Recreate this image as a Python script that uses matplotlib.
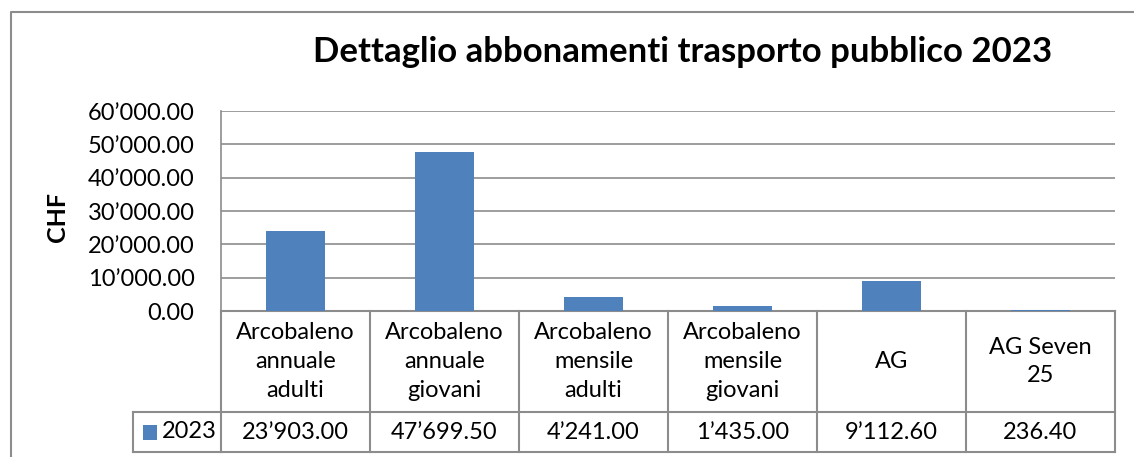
import numpy as np
import matplotlib.pyplot as plt
from matplotlib.patches import Rectangle
from matplotlib.lines import Line2D

plt.rcParams['font.family'] = ['Lato', 'DejaVu Sans']

# dati
categorie = ["Arcobaleno\nannuale\nadulti", "Arcobaleno\nannuale\ngiovani",
             "Arcobaleno\nmensile\nadulti", "Arcobaleno\nmensile\ngiovani",
             "AG", "AG Seven\n25"]
valori_2023 = [23903.00, 47699.50, 4241.00, 1435.00, 9112.60, 236.40]
serie = "2023"
titolo = "Dettaglio abbonamenti trasporto pubblico 2023"

blu = "#4F81BD"
grigio = "#8C8C8C"

W, H = 1134, 457
fig = plt.figure(figsize=(W / 100, H / 100), dpi=100)

def fx(px):
    return px / W

def fy(py):
    return 1 - py / H

# cornice del grafico (solo lati superiore e sinistro visibili)
fig.add_artist(Line2D([fx(10.5), fx(10.5), 1.0], [0.0, fy(12), fy(12)],
                      transform=fig.transFigure, color=grigio, lw=1.5))

ax = fig.add_axes([fx(221), fy(311), fx(1115) - fx(221), fy(111) - fy(311)])

def fmt(v):
    return f"{v:,.2f}".replace(",", "’")

x = np.arange(len(categorie))
ax.bar(x, valori_2023, width=0.4, color=blu, zorder=3)
ax.set_xlim(-0.5, len(categorie) - 0.5)
ax.set_ylim(0, 60000)
ax.set_yticks(np.arange(0, 60001, 10000))
ax.set_yticklabels([fmt(v) for v in np.arange(0, 60001, 10000)], fontsize=17)
ax.tick_params(axis="y", length=0, pad=19)
ax.set_xticks([])
ax.grid(axis="y", color=grigio, lw=1.2, zorder=0)
for s in ["top", "right", "bottom"]:
    ax.spines[s].set_visible(False)
ax.spines["left"].set_color(grigio)
ax.spines["left"].set_linewidth(1.2)

ax.set_ylabel("CHF", fontsize=18, fontweight="bold")
ax.yaxis.set_label_coords((69 - 221) / 894, 0.47)

fig.text(fx(683), fy(52), titolo, fontsize=25, fontweight="bold",
         ha="center", va="center")

# tabella dati
tr = ax.get_xaxis_transform()
y_head = -101 / 200
y_bot = -141 / 200
leg_left = (133 - 221) / 894
kw = dict(color=grigio, lw=1.5, clip_on=False)
for i in range(len(categorie) + 1):
    ax.plot([i - 0.5, i - 0.5], [0, y_bot], transform=tr, **kw)
ax.plot([-0.5, len(categorie) - 0.5], [0, 0], transform=tr, **kw)
ax.plot([-0.5, len(categorie) - 0.5], [y_bot, y_bot], transform=tr, **kw)
ax.plot([leg_left, 0], [y_head, y_head], transform=ax.transAxes, **kw)
ax.plot([-0.5, len(categorie) - 0.5], [y_head, y_head], transform=tr, **kw)
ax.plot([leg_left, 0], [y_bot, y_bot], transform=ax.transAxes, **kw)
ax.plot([leg_left, leg_left], [y_head, y_bot], transform=ax.transAxes, **kw)

for i, (c, v) in enumerate(zip(categorie, valori_2023)):
    ax.text(i, y_head / 2, c, transform=tr, ha="center", va="center",
            fontsize=17, linespacing=1.45)
    ax.text(i, (y_head + y_bot) / 2, fmt(v), transform=tr, ha="center",
            va="center", fontsize=17)

# legenda nella tabella
fig.add_artist(Rectangle((fx(143), fy(440)), fx(14), fy(425) - fy(440),
                         transform=fig.transFigure, facecolor=blu,
                         edgecolor="none"))
fig.text(fx(162), fy(432), serie, fontsize=17, ha="left", va="center")

fig.savefig("out.png", dpi=100)
